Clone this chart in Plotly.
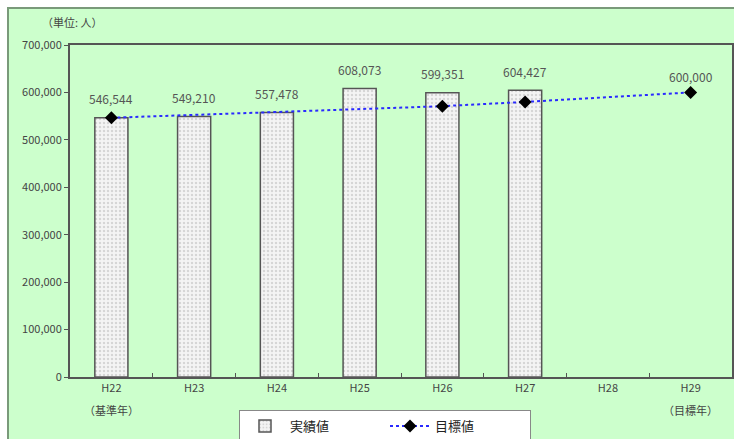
import plotly.graph_objects as go

categories = ["H22", "H23", "H24", "H25", "H26", "H27", "H28", "H29"]
sub_labels = {"H22": "（基準年）", "H29": "（目標年）"}
actual = [546544, 549210, 557478, 608073, 599351, 604427, None, None]
target = [546544, None, None, None, 571000, 580000, None, 600000]
y_ticks = [0, 100000, 200000, 300000, 400000, 500000, 600000, 700000]
y_tick_labels = ["0", "100,000", "200,000", "300,000", "400,000", "500,000", "600,000", "700,000"]

FONT = "Noto Sans CJK JP"
W, H = 734, 439
L, R, T, B = 70, 2, 45, 439 - 377
pw, ph = W - L - R, H - T - B

def px_x(p):
    return (p - L) / pw

def px_y(p):
    return (H - B - p) / ph

fig = go.Figure()
fig.add_trace(go.Bar(
    x=categories, y=actual, name="実績値", width=0.4,
    marker=dict(color="#f2f2f2", line=dict(color="#555555", width=1.5),
                pattern=dict(shape=".", fgcolor="#b8b8b8", bgcolor="#f4f4f4", size=4, solidity=0.3)),
))
fig.add_trace(go.Scatter(
    x=categories, y=target, name="目標値", mode="lines+markers", connectgaps=True,
    line=dict(color="#2a2aff", width=2, dash="dot"),
    marker=dict(symbol="diamond", color="black", size=10),
))

annotations = []
for c, v in zip(categories, actual):
    if v is not None:
        annotations.append(dict(x=c, y=v, text=f"{v:,}", showarrow=False, yshift=19,
                                font=dict(family=FONT, size=12, color="#555555")))
annotations.append(dict(x=categories[-1], y=target[-1], text=f"{target[-1]:,}", showarrow=False,
                        yshift=16, font=dict(family=FONT, size=12, color="#555555")))
for c, s in sub_labels.items():
    annotations.append(dict(x=c, xref="x", yref="paper", y=px_y(410), text=s, showarrow=False,
                            yanchor="middle", font=dict(family=FONT, size=11, color="#444444")))
annotations.append(dict(xref="paper", yref="paper", x=px_x(40), y=px_y(22), xanchor="left",
                        yanchor="middle", text="（単位: 人）", showarrow=False,
                        font=dict(family=FONT, size=11, color="#444444")))

fig.update_layout(
    width=W, height=H,
    margin=dict(l=L, r=R, t=T, b=B, autoexpand=False),
    paper_bgcolor="white", plot_bgcolor="white",
    font=dict(family=FONT, size=11, color="#444444"),
    showlegend=True,
    legend=dict(orientation="h", x=px_x(385), y=px_y(410), xanchor="center", yanchor="top",
                bgcolor="white", bordercolor="#888888", borderwidth=1,
                font=dict(family=FONT, size=13, color="#222222"), itemwidth=40,
                entrywidth=90),
    annotations=annotations,
    shapes=[dict(type="rect", xref="paper", yref="paper", layer="below",
                 x0=px_x(8), x1=px_x(745), y0=px_y(450), y1=px_y(8),
                 fillcolor="#ccffcc", line=dict(color="#7a9a7a", width=2))],
)
fig.update_xaxes(type="category", showline=True, linecolor="#555555", linewidth=2, mirror=True,
                 ticks="inside", ticklen=4, tickson="boundaries", tickcolor="#555555",
                 showgrid=False, automargin=False,
                 tickfont=dict(family=FONT, size=11, color="#444444"))
fig.update_yaxes(range=[0, 700000], tickvals=y_ticks, ticktext=y_tick_labels,
                 showline=True, linecolor="#555555", linewidth=2, mirror=True,
                 ticks="outside", ticklen=4, tickcolor="#555555", showgrid=False, zeroline=False,
                 automargin=False,
                 tickfont=dict(family=FONT, size=11, color="#444444"))

fig.write_html("out.html", config={"displayModeBar": False},
               post_script="document.body.style.margin='0';")
